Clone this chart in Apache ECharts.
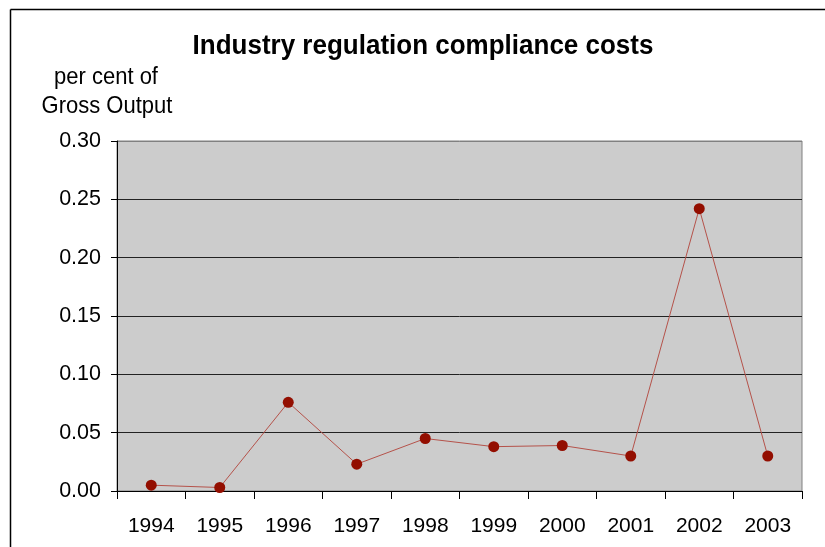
<!DOCTYPE html>
<html><head><meta charset="utf-8">
<script src="https://cdn.jsdelivr.net/npm/echarts@6/dist/echarts.min.js"></script>
<style>html,body{margin:0;padding:0;background:#fff}#c{width:825px;height:547px}</style>
</head><body><div id="c"></div>
<script>
const years = ['1994','1995','1996','1997','1998','1999','2000','2001','2002','2003'];
const costs = [0.005, 0.003, 0.076, 0.023, 0.045, 0.038, 0.039, 0.030, 0.242, 0.030];
const titleText = 'Industry regulation compliance costs';
const yNameLines = ['per cent of', 'Gross Output'];

const chart = echarts.init(document.getElementById('c'), null, {renderer:'canvas'});
const FONT = 'Liberation Sans, Arial, sans-serif';
chart.setOption({
  animation: false,
  graphic: [
    {type:'line', shape:{x1:10.5,y1:9.5,x2:825,y2:9.5}, style:{stroke:'#000',lineWidth:1.5}},
    {type:'line', shape:{x1:10.5,y1:9.5,x2:10.5,y2:547}, style:{stroke:'#000',lineWidth:1.5}},
    {type:'text', x:423, y:46, scaleY:1.08, style:{text:titleText, fontFamily:FONT, fontSize:26, fontWeight:'bold', fill:'#000', align:'center', verticalAlign:'middle'}},
    {type:'text', x:106, y:77, scaleY:1.1, style:{text:yNameLines[0], fontFamily:FONT, fontSize:22, fill:'#000', align:'center', verticalAlign:'middle'}},
    {type:'text', x:107, y:106, scaleY:1.1, style:{text:yNameLines[1], fontFamily:FONT, fontSize:22, fill:'#000', align:'center', verticalAlign:'middle'}}
  ],
  grid: {left:117, top:141, width:685, height:350, show:true, backgroundColor:'#cccccc', borderColor:'#808080', borderWidth:1},
  xAxis: {type:'category', data: years, boundaryGap:true,
    axisLine:{lineStyle:{color:'#000', width:1}},
    axisTick:{show:true, interval:0, length:8, lineStyle:{color:'#000'}},
    axisLabel:{interval:0, margin:25, fontFamily:FONT, fontSize:21, color:'#000'},
    splitLine:{show:false}},
  yAxis: {type:'value', min:0, max:0.3, interval:0.05,
    axisLine:{show:true, lineStyle:{color:'#000', width:1}},
    axisTick:{show:true, length:6, lineStyle:{color:'#000'}},
    axisLabel:{margin:16, fontFamily:FONT, fontSize:21.5, color:'#000', formatter: v => v.toFixed(2)},
    splitLine:{show:true, lineStyle:{color:['#000','#222','#222','#222','#222','#222','#808080'], width:1}}},
  series: [{type:'line', data: costs, symbol:'circle', symbolSize:11,
    itemStyle:{color:'#930e00'}, lineStyle:{color:'#b5524a', width:1}}]
});
</script></body></html>
